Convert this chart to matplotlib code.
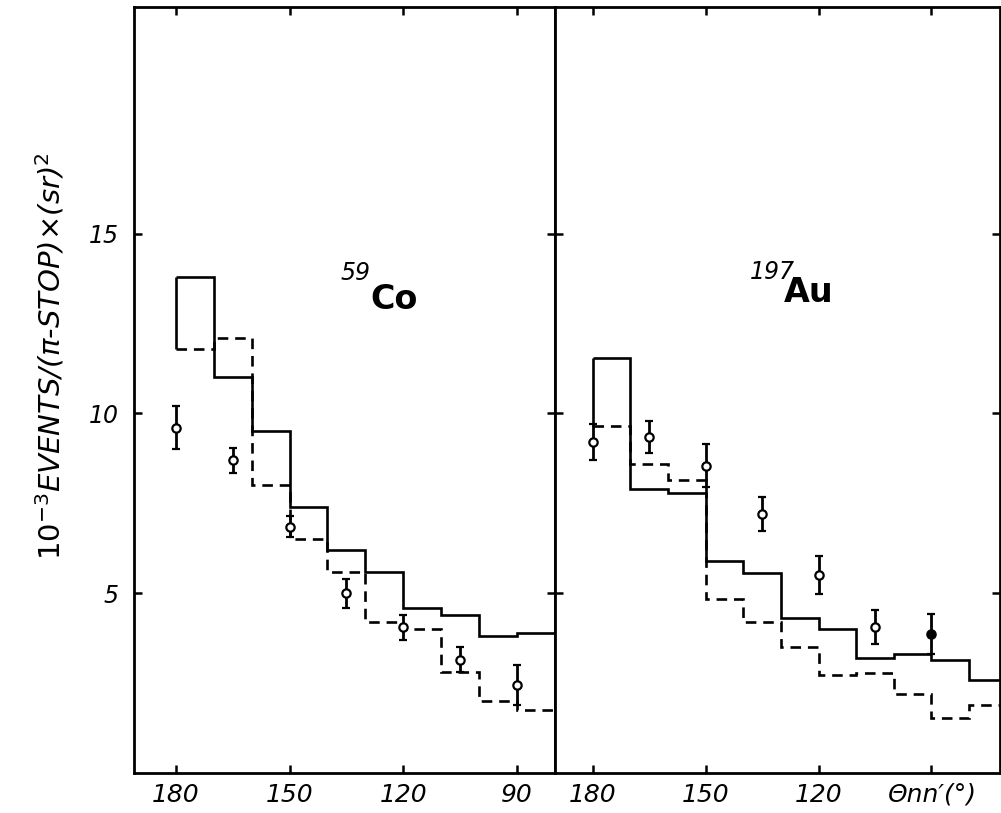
import matplotlib
matplotlib.use("Agg")
from matplotlib import pyplot as plt

# 59Co panel
edges_co = [180, 170, 160, 150, 140, 130, 120, 110, 100, 90, 80]
solid_co = [13.8, 11.0, 9.5, 7.4, 6.2, 5.6, 4.6, 4.4, 3.8, 3.9]
dashed_co = [11.8, 12.1, 8.0, 6.5, 5.6, 4.2, 4.0, 2.8, 2.0, 1.75]
angles_co = [180, 165, 150, 135, 120, 105, 90]
data_co = [9.6, 8.7, 6.85, 5.0, 4.05, 3.15, 2.45]
err_co = [0.6, 0.35, 0.3, 0.4, 0.35, 0.35, 0.55]

# 197Au panel
edges_au = [180, 170, 160, 150, 140, 130, 120, 110, 100, 90, 80, 70]
solid_au = [11.55, 7.9, 7.8, 5.9, 5.57, 4.3, 4.0, 3.2, 3.3, 3.14, 2.6]
dashed_au = [9.64, 8.6, 8.14, 4.83, 4.19, 3.5, 2.72, 2.78, 2.2, 1.53, 1.89]
angles_au = [180, 165, 150, 135, 120, 105, 90]
data_au = [9.2, 9.35, 8.55, 7.2, 5.5, 4.05, 3.87]
err_au = [0.5, 0.45, 0.6, 0.48, 0.53, 0.47, 0.55]
filled_au = [False, False, False, False, False, False, True]

xticks = [180, 150, 120, 90]
yticks = [5, 10, 15]

fig = plt.figure(figsize=(10.01, 8.13), dpi=100)
ax1 = fig.add_axes([0.1339, 0.0492, 0.4206, 0.942])
ax2 = fig.add_axes([0.5544, 0.0492, 0.4446, 0.942])

LW = 1.9
DASH = (0, (4, 2.6))


def panel(ax, edges, solid, dashed, angles, vals, errs, filled):
    ax.stairs(solid, edges, baseline=None, color="k", lw=LW)
    ax.vlines(edges[0], dashed[0], solid[0], color="k", lw=LW)
    ax.stairs(dashed, edges, baseline=None, color="k", lw=LW, linestyle=DASH)
    for a, v, e, f in zip(angles, vals, errs, filled):
        ax.errorbar(a, v, yerr=e, fmt="o", ms=6, mfc="k" if f else "white",
                    mec="k", mew=1.6, ecolor="k", elinewidth=2.0, capsize=3,
                    capthick=1.6, zorder=5)
    ax.set_ylim(0, 21.3)
    ax.set_yticks(yticks)
    ax.set_xticks(xticks)
    ax.tick_params(direction="in", length=6, width=1.8, top=True, right=True,
                   labelsize=18, pad=7)
    for s in ax.spines.values():
        s.set_linewidth(2.0)
    for lab in ax.get_xticklabels() + ax.get_yticklabels():
        lab.set_fontstyle("italic")


panel(ax1, edges_co, solid_co, dashed_co, angles_co, data_co, err_co,
      [False] * len(data_co))
panel(ax2, edges_au, solid_au, dashed_au, angles_au, data_au, err_au, filled_au)

ax1.set_xlim(191, 80)
ax2.set_xlim(190, 71.8)

ax1.set_yticklabels(["5", "10", "15"], fontstyle="italic", fontsize=17)
ax1.tick_params(axis="y", pad=11)
ax2.tick_params(axis="y", labelleft=False)
ax2.set_xticklabels(["180", "150", "120", "Θnn′(°)"], fontstyle="italic", fontsize=18)

# nucleus labels
ax1.text(128.8, 12.9, "Co", fontsize=24, fontweight="bold", ha="left", va="baseline")
ax1.text(128.6, 13.7, "59", fontsize=17, fontstyle="italic", ha="right", va="baseline")
ax2.text(129.3, 13.1, "Au", fontsize=24, fontweight="bold", ha="left", va="baseline")
ax2.text(126.4, 13.75, "197", fontsize=17, fontstyle="italic", ha="right", va="baseline")

fig.text(0.05, 1 - 356 / 813,
         r"$10^{-3}$EVENTS/($\pi$-STOP)$\times$(sr)$^2$",
         rotation=90, ha="center", va="center", fontsize=21, fontstyle="italic")

fig.savefig("out.png", dpi=100)
